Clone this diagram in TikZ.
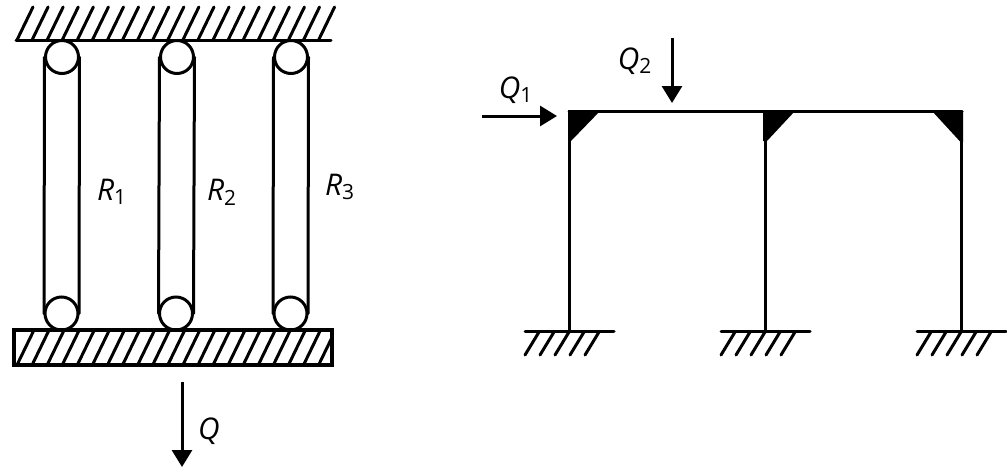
\documentclass[tikz,border=0pt]{standalone}
\usepackage{fontspec}
\setmainfont{Open Sans}
\usetikzlibrary{arrows.meta}
\tikzset{
	member/.style={line width=0.6mm,line cap=round},
	load/.style={line width=0.6mm,-{Triangle[length=3.4mm,width=4mm]}},
	symbol/.style={inner sep=0pt,font=\fontsize{17}{19}\selectfont}
}
\begin{document}
\begin{tikzpicture}[x=0.2mm,y=-0.2mm]
	\useasboundingbox (0,0) rectangle (1007,468);

	\draw[member] (16,40) -- (331,40);
	\foreach \x in {0,...,20}
		{   \draw[member] ({17+15.08*\x},40) -- ({33+15.08*\x},7);
		}

	\begin{scope}
		\clip (14,330) rectangle (332,365);
		\foreach \x in {0,...,20}
			{   \draw[member] ({17+15.08*\x},365) -- ({34+15.08*\x},330);
			}
	\end{scope}
	\draw[member,line width=0.7mm] (14,330) rectangle (332,365);

	\foreach \x/\y in {62/61.5,177/176,291/290.5}
		{   \draw[member] (\x,57) circle (16.5);
			\draw[member] (\y,313.5) circle (16.5);
			\draw[member] (\x-17.5,57) -- (\y-17.5,313.5);
			\draw[member] (\x+17.5,57) -- (\y+17.5,313.5);
		}

	\coordinate (loadtop) at (182,382);
	\coordinate (loadend) at (182,467);
	\draw[load] (loadtop) -- (loadend);
	\node[symbol] at (209,431) (q) {\textit{Q}};

	\node[symbol] at (112,192) (r1) {\textit{R}\textsubscript{1}};
	\node[symbol] at (222,192) (r2) {\textit{R}\textsubscript{2}};
	\node[symbol] at (340,187) (r3) {\textit{R}\textsubscript{3}};

	\coordinate (corner1) at (569,111.5);
	\coordinate (corner3) at (962,111.5);
	\draw[member] (corner1) -- (corner3);
	\foreach \x in {569.5,765.5,961}
		{   \draw[member] (\x,111.5) -- (\x,331);
		}

	\fill (568,110) -- (601,110) -- (571,141) -- (568,141) -- cycle;
	\fill (763,111) -- (795,111) -- (767,141) -- (763,141) -- cycle;
	\fill (932,111) -- (963,111) -- (963,142) -- (960.5,142) -- cycle;

	\foreach \x in {525,721,917}
		{   \draw[member] (\x,331) -- (\x+89,331);
			\foreach \i in {0,...,4}
				{   \draw[member] (\x+15*\i,355) -- (\x+14+15*\i,332);
				}
		}

	\coordinate (q1start) at (482,116);
	\coordinate (q1end) at (557,116);
	\draw[load] (q1start) -- (q1end);
	\node[symbol] at (516,90) (q1) {\textit{Q}\textsubscript{1}};

	\coordinate (q2start) at (672,38);
	\coordinate (q2end) at (672,103);
	\draw[load] (q2start) -- (q2end);
	\node[symbol] at (635,61) (q2) {\textit{Q}\textsubscript{2}};
\end{tikzpicture}
\end{document}
